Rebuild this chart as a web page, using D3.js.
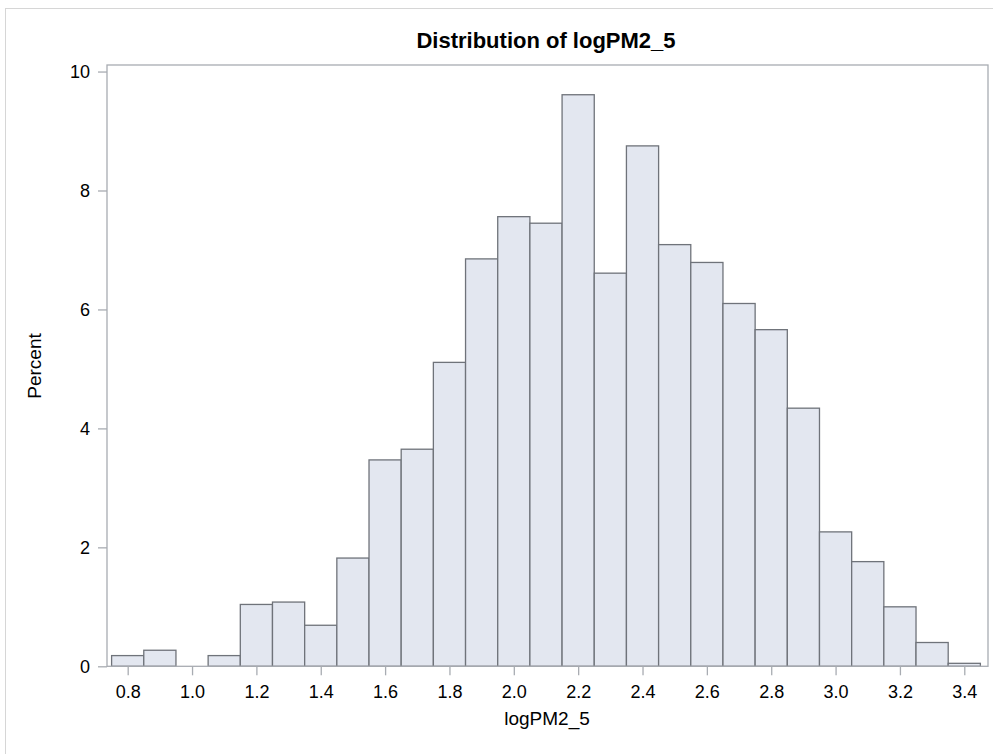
<!DOCTYPE html>
<html>
<head>
<meta charset="utf-8">
<script src="https://cdn.jsdelivr.net/npm/d3@7"></script>
<style>
  html, body { margin: 0; padding: 0; background: #fff; }
  text { font-family: "Liberation Sans", Arial, sans-serif; fill: #000; }
</style>
</head>
<body>
<div id="chart"></div>
<script>
// bin midpoints (width 0.1) and percent per bin
const binMids = [0.8, 0.9, 1.0, 1.1, 1.2, 1.3, 1.4, 1.5, 1.6, 1.7, 1.8, 1.9, 2.0, 2.1,
  2.2, 2.3, 2.4, 2.5, 2.6, 2.7, 2.8, 2.9, 3.0, 3.1, 3.2, 3.3, 3.4];
const percents = [0.18, 0.27, 0, 0.18, 1.04, 1.08, 0.69, 1.82, 3.47, 3.65, 5.11, 6.85, 7.56, 7.45,
  9.61, 6.61, 8.75, 7.09, 6.79, 6.10, 5.66, 4.34, 2.26, 1.76, 1.00, 0.40, 0.05];
const binWidth = 0.1;
const xTicks = [0.8, 1.0, 1.2, 1.4, 1.6, 1.8, 2.0, 2.2, 2.4, 2.6, 2.8, 3.0, 3.2, 3.4];
const yTicks = [0, 2, 4, 6, 8, 10];

const width = 993, height = 754;
const plot = { left: 107, right: 988, top: 65, bottom: 666.3 };

const svg = d3.select('#chart').append('svg')
  .attr('width', width).attr('height', height);

// outer frame
svg.append('rect')
  .attr('x', 5.5).attr('y', 8.5)
  .attr('width', width + 10).attr('height', height + 10)
  .attr('fill', 'none').attr('stroke', '#d6d6d6');

const x = d3.scaleLinear().domain([0.7357, 3.4737]).range([plot.left, plot.right]);
const y = d3.scaleLinear().domain([0, 10.11]).range([plot.bottom, plot.top]);

const bins = binMids.map((m, i) => ({ mid: m, pct: percents[i] })).filter(d => d.pct > 0);

svg.append('g').selectAll('rect')
  .data(bins)
  .enter()
  .append('rect')
  .attr('x', d => x(d.mid - binWidth / 2))
  .attr('y', d => y(d.pct))
  .attr('width', d => x(d.mid + binWidth / 2) - x(d.mid - binWidth / 2))
  .attr('height', d => y(0) - y(d.pct))
  .attr('fill', '#e3e7f0')
  .attr('stroke', '#6f737a')
  .attr('stroke-width', 1.3);

// plot frame
svg.append('rect')
  .attr('x', plot.left).attr('y', plot.top)
  .attr('width', plot.right - plot.left).attr('height', plot.bottom - plot.top)
  .attr('fill', 'none').attr('stroke', '#a8acb2').attr('stroke-width', 1.3);

const xAxis = svg.append('g')
  .attr('transform', 'translate(0,' + plot.bottom + ')')
  .call(d3.axisBottom(x).tickValues(xTicks).tickFormat(d3.format('.1f')).tickSize(9).tickPadding(10));
const yAxis = svg.append('g')
  .attr('transform', 'translate(' + plot.left + ',0)')
  .call(d3.axisLeft(y).tickValues(yTicks).tickSize(9).tickPadding(8));

[xAxis, yAxis].forEach(a => {
  a.select('.domain').remove();
  a.selectAll('line').attr('stroke', '#a8acb2').attr('stroke-width', 1.3);
  a.selectAll('text').attr('font-size', 18).attr('fill', '#000')
    .style('font-family', '"Liberation Sans", Arial, sans-serif');
});

svg.append('text')
  .attr('x', 546).attr('y', 48)
  .attr('text-anchor', 'middle')
  .attr('font-size', 22).attr('font-weight', 'bold')
  .text('Distribution of logPM2_5');

svg.append('text')
  .attr('x', 547).attr('y', 725)
  .attr('text-anchor', 'middle')
  .attr('font-size', 19)
  .text('logPM2_5');

svg.append('text')
  .attr('transform', 'translate(41,366) rotate(-90)')
  .attr('text-anchor', 'middle')
  .attr('font-size', 19)
  .text('Percent');
</script>
</body>
</html>
